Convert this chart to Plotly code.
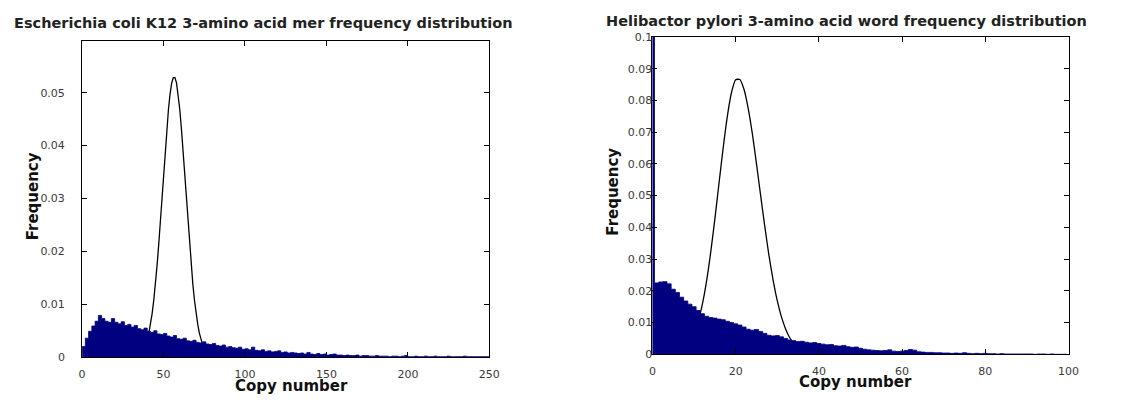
import numpy as np
import plotly.graph_objects as go

W, H = 1128, 400

# ---------------- data ----------------
ecoli_title = "Escherichia coli K12 3-amino acid mer frequency distribution"
hpylori_title = "Helibactor pylori 3-amino acid word frequency distribution"
x_label = "Copy number"
y_label = "Frequency"

ecoli_bin_width = 2
ecoli_bin_start = 0
ecoli_freq = [
    0.0020, 0.0036, 0.0049, 0.0059, 0.0068, 0.0079, 0.0073, 0.0068, 0.0066, 0.0073,
    0.0066, 0.0063, 0.0067, 0.0060, 0.0062, 0.0057, 0.0060, 0.0054, 0.0052, 0.0055,
    0.0049, 0.0047, 0.0050, 0.0044, 0.0043, 0.0045, 0.0040, 0.0038, 0.0041, 0.0035,
    0.0034, 0.0036, 0.0031, 0.0030, 0.0032, 0.0028, 0.0027, 0.0029, 0.0025, 0.0024,
    0.0026, 0.0022, 0.0021, 0.0023, 0.0019, 0.0020, 0.0018, 0.0017, 0.0019, 0.0015,
    0.0016, 0.0014, 0.0019, 0.0013, 0.0012, 0.0014, 0.0011, 0.0012, 0.0010, 0.0011,
    0.0012, 0.0009, 0.0010, 0.0008, 0.0009, 0.0008, 0.0007, 0.0008, 0.0006, 0.0009,
    0.0006, 0.0005, 0.0007, 0.0005, 0.0006, 0.0004, 0.0005, 0.0006, 0.0004, 0.0004,
    0.0003, 0.0004, 0.0003, 0.0003, 0.0004, 0.0002, 0.0003, 0.0003, 0.0002, 0.0002,
    0.0003, 0.0002, 0.0002, 0.0002, 0.0001, 0.0002, 0.0002, 0.0001, 0.0002, 0.0003,
    0.0001, 0.0001, 0.0002, 0.0001, 0.0001, 0.0002, 0.0001, 0.0001, 0.0002, 0.0001,
    0.0001, 0.0001, 0.0002, 0.0001, 0.0001, 0.0001, 0.0001, 0.0002, 0.0001, 0.0001,
    0.0001, 0.0001, 0.0001, 0.0001, 0.0001,
]
ecoli_fit_x = list(range(38, 76))
ecoli_fit_y = [
    0.00161, 0.00233, 0.00330, 0.00456, 0.00620, 0.00825, 0.01076, 0.01375, 0.01721, 0.02110,
    0.02536, 0.02985, 0.03444, 0.03892, 0.04310, 0.04677, 0.04972, 0.05180, 0.05286, 0.05286,
    0.05180, 0.04972, 0.04677, 0.04310, 0.03892, 0.03444, 0.02985, 0.02536, 0.02110, 0.01721,
    0.01375, 0.01076, 0.00825, 0.00620, 0.00456, 0.00330, 0.00233, 0.00161,
]

hpylori_bin_width = 1
hpylori_bin_start = -0.5
hpylori_freq = [
    0.1050, 0.0225, 0.0228, 0.0229, 0.0222, 0.0205, 0.0195, 0.0180, 0.0168, 0.0158,
    0.0150, 0.0138, 0.0128, 0.0120, 0.0116, 0.0114, 0.0111, 0.0109, 0.0104, 0.0100,
    0.0096, 0.0092, 0.0086, 0.0079, 0.0076, 0.0078, 0.0072, 0.0066, 0.0060, 0.0058,
    0.0059, 0.0055, 0.0050, 0.0045, 0.0043, 0.0040, 0.0041, 0.0038, 0.0036, 0.0037,
    0.0034, 0.0032, 0.0030, 0.0031, 0.0027, 0.0026, 0.0028, 0.0024, 0.0022, 0.0023,
    0.0019, 0.0016, 0.0014, 0.0013, 0.0012, 0.0011, 0.0012, 0.0014, 0.0010, 0.0009,
    0.0010, 0.0012, 0.0015, 0.0013, 0.0008, 0.0007, 0.0006, 0.0006, 0.0005, 0.0005,
    0.0004, 0.0004, 0.0003, 0.0004, 0.0003, 0.0005, 0.0003, 0.0002, 0.0003, 0.0002,
    0.0003, 0.0002, 0.0002, 0.0001, 0.0002, 0.0001, 0.0001, 0.0001, 0.0001, 0.0001,
    0.0001, 0.0001, 0.0000, 0.0001, 0.0001, 0.0000, 0.0001, 0.0000, 0.0000, 0.0000,
]
hpylori_fit_x = list(range(10, 36))
hpylori_fit_y = [
    0.0064, 0.0103, 0.0158, 0.0230, 0.0321, 0.0426, 0.0539, 0.0651, 0.0750, 0.0825,
    0.0865, 0.0866, 0.0835, 0.0776, 0.0696, 0.0601, 0.0501, 0.0403, 0.0312, 0.0234,
    0.0169, 0.0118, 0.0080, 0.0052, 0.0033, 0.0020,
]

ecoli_xticks = [0, 50, 100, 150, 200, 250]
ecoli_yticks = [0, 0.01, 0.02, 0.03, 0.04, 0.05]
ecoli_ytick_text = ["0", "0.01", "0.02", "0.03", "0.04", "0.05"]
hpylori_xticks = [0, 20, 40, 60, 80, 100]
hpylori_yticks = [0, 0.01, 0.02, 0.03, 0.04, 0.05, 0.06, 0.07, 0.08, 0.09, 0.1]
hpylori_ytick_text = ["0", "0.01", "0.02", "0.03", "0.04", "0.05", "0.06", "0.07", "0.08", "0.09", "0.1"]

# ---------------- styling / layout ----------------
NAVY = "#000080"
TICK_FONT = "DejaVu Sans, Verdana, sans-serif"
TEXT_FONT = "DejaVu Sans, Verdana, sans-serif"

# plot boxes in pixels (left, right, top, bottom)
L_BOX = (80, 492, 36, 363)
R_BOX = (657, 1078, 32, 360)


def dom_x(b):
    return [b[0] / W, b[1] / W]


def dom_y(b):
    return [1 - b[3] / H, 1 - b[2] / H]


def step_xy(start, width, vals):
    edges = start + width * np.arange(len(vals) + 1)
    ys = list(vals) + [vals[-1]]
    return edges, ys


fig = go.Figure()

# Fitted curves first so the histogram covers their feet
fig.add_trace(go.Scatter(x=ecoli_fit_x, y=ecoli_fit_y, mode="lines",
                         line=dict(color="black", width=1.3),
                         xaxis="x", yaxis="y", showlegend=False))
ex, ey = step_xy(ecoli_bin_start, ecoli_bin_width, ecoli_freq)
fig.add_trace(go.Scatter(x=ex, y=ey, mode="lines", line=dict(color=NAVY, width=0.8, shape="hv"),
                         fill="tozeroy", fillcolor=NAVY,
                         xaxis="x", yaxis="y", showlegend=False))

fig.add_trace(go.Scatter(x=hpylori_fit_x, y=hpylori_fit_y, mode="lines",
                         line=dict(color="black", width=1.3, shape="spline", smoothing=0.6),
                         xaxis="x2", yaxis="y2", showlegend=False))
hx, hy = step_xy(hpylori_bin_start, hpylori_bin_width, hpylori_freq)
fig.add_trace(go.Scatter(x=hx, y=hy, mode="lines", line=dict(color=NAVY, width=0.8, shape="hv"),
                         fill="tozeroy", fillcolor=NAVY,
                         xaxis="x2", yaxis="y2", showlegend=False))

axis_common = dict(showline=True, linecolor="black", linewidth=1, mirror="allticks",
                   ticks="inside", ticklen=5, tickcolor="black", tickwidth=1,
                   showgrid=False, zeroline=False,
                   tickfont=dict(family=TICK_FONT, size=11, color="#3a3a3a"))

fig.update_layout(
    width=W, height=H,
    margin=dict(l=0, r=0, t=0, b=0),
    paper_bgcolor="white", plot_bgcolor="white",
    showlegend=False,
    xaxis=dict(domain=dom_x(L_BOX), anchor="y", range=[0, 250], tickvals=ecoli_xticks,
               ticklabelstandoff=7, **axis_common),
    yaxis=dict(domain=dom_y(L_BOX), anchor="x", range=[0, 0.0598], tickvals=ecoli_yticks,
               ticktext=ecoli_ytick_text, ticklabelstandoff=14, **axis_common),
    xaxis2=dict(domain=dom_x(R_BOX), anchor="y2", range=[0, 100], tickvals=hpylori_xticks,
                ticklabelstandoff=6, **axis_common),
    yaxis2=dict(domain=dom_y(R_BOX), anchor="x2", range=[0, 0.1], tickvals=hpylori_yticks,
                ticktext=hpylori_ytick_text, ticklabelstandoff=-3, **axis_common),
)

title_font = dict(family=TEXT_FONT, size=14.5, color="#222222")
label_font = dict(family=TEXT_FONT, size=15, color="#111111")


def ann(text, px, py, font, angle=0, xanchor="center"):
    fig.add_annotation(text=text, x=px / W, y=1 - py / H, xref="paper", yref="paper",
                       showarrow=False, font=font, textangle=angle,
                       xanchor=xanchor, yanchor="middle")


ann("<b>%s</b>" % ecoli_title, 9, 18, title_font, xanchor="left")
ann("<b>%s</b>" % hpylori_title, 608, 15, title_font, xanchor="left")
ann("<b>%s</b>" % x_label, 292, 393, label_font)
ann("<b>%s</b>" % x_label, 862, 389, label_font)
ann("<b>%s</b>" % y_label, 30, 197, label_font, angle=-90)
ann("<b>%s</b>" % y_label, 617, 192, label_font, angle=-90)

fig.write_html("out.html")
